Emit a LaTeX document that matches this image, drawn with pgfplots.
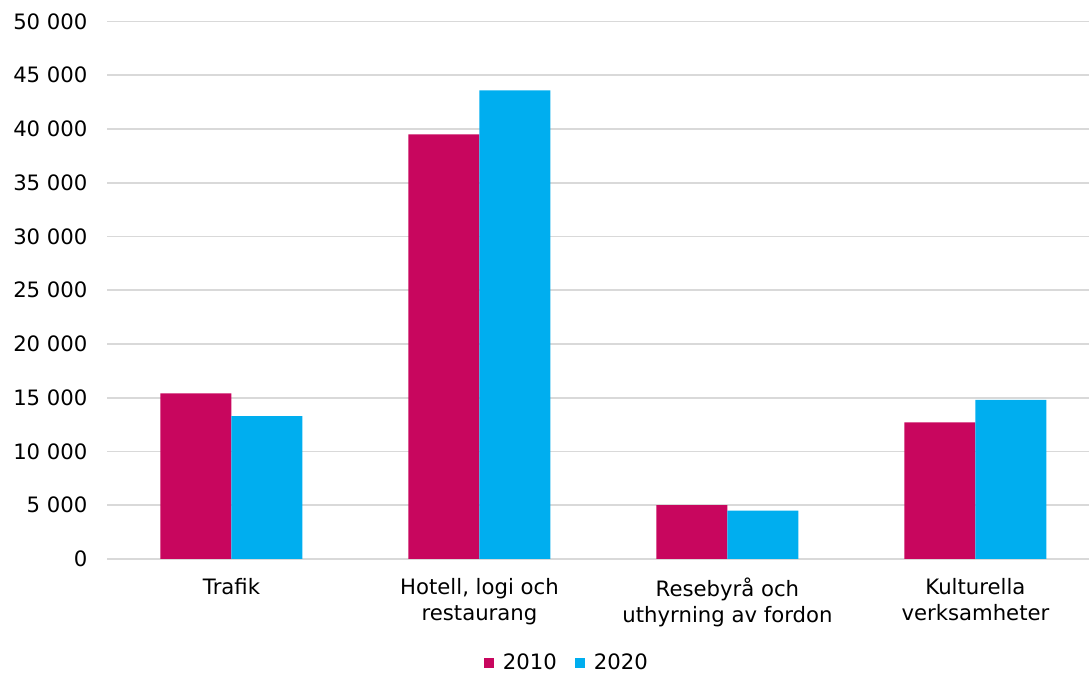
\documentclass[border=0pt]{standalone}
\usepackage{fontspec}
\setmainfont{DejaVu Sans}
\usepackage{pgfplots}
\pgfplotsset{compat=1.18}
\definecolor{mag}{HTML}{C8065E}
\definecolor{cya}{HTML}{00AEEF}
\definecolor{gridc}{HTML}{D9D9D9}
\begin{document}
\begin{tikzpicture}[font=\fontsize{10.6pt}{13pt}\selectfont]
\path[use as bounding box] (0,0) rectangle (544.5pt,337.5pt);
\begin{axis}[
  at={(53.75pt,58pt)}, anchor=south west,
  scale only axis, width=490.75pt, height=268.75pt,
  xmin=-0.5, xmax=3.458, ymin=0, ymax=50000,
  ybar=0pt, bar width=35.5pt,
  axis line style={draw=none},
  major tick length=0pt,
  ytick={0,5000,...,50000},
  ymajorgrids=true, xmajorgrids=false,
  major grid style={draw=gridc, line width=0.8pt},
  xtick={0,1,2,3},
  xticklabels={Trafik, {Hotell, logi och\\restaurang}, {Resebyrå och\\uthyrning av fordon}, {Kulturella\\verksamheter}},
  xticklabel style={align=center, yshift=-6pt, font=\fontsize{10.6pt}{13pt}\selectfont},
  yticklabel style={xshift=-6.5pt, font=\fontsize{10.6pt}{13pt}\selectfont},
  /pgf/number format/assume math mode=true,
  /pgf/number format/1000 sep={\ },
  scaled y ticks=false,
  legend columns=2,
  legend style={draw=none, at={(0.469,-0.1935)}, anchor=center, font=\fontsize{10.6pt}{13pt}\selectfont,
    /tikz/every even column/.append style={column sep=7pt},
    /tikz/every odd column/.append style={column sep=2.5pt}},
  legend image code/.code={\fill[#1] (0pt,-2.5pt) rectangle (5pt,2.5pt);},
]
\addplot[fill=mag, draw=none] coordinates {(0,15400) (1,39500) (2,5000) (3,12700)};
\addplot[fill=cya, draw=none] coordinates {(0,13300) (1,43600) (2,4500) (3,14800)};
\legend{2010,2020}
\end{axis}
\end{tikzpicture}
\end{document}
